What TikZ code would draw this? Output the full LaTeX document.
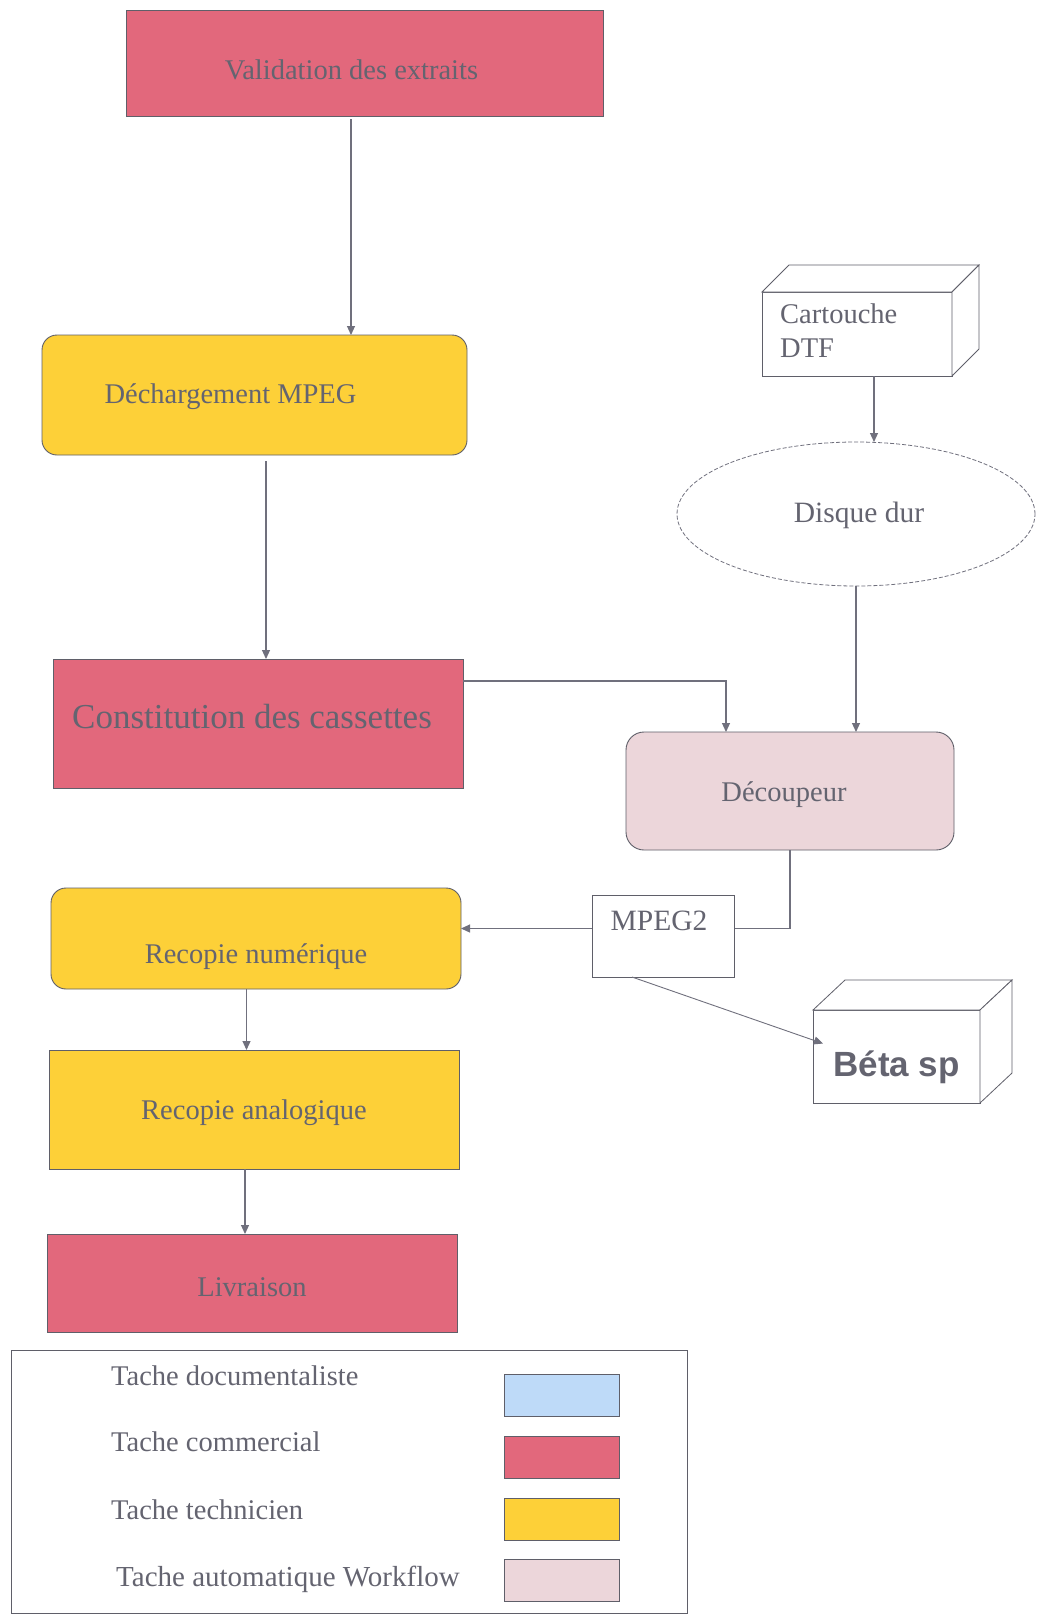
\documentclass[tikz,border=0pt]{standalone}
\usepackage{fontspec}
\setmainfont{Liberation Serif}
\newfontfamily\betafont{Liberation Sans}
\usetikzlibrary{arrows.meta,shapes.geometric}

\definecolor{commercial}{RGB}{226,104,124}
\definecolor{technicien}{RGB}{253,208,56}
\definecolor{workflow}{RGB}{236,214,218}
\definecolor{documentaliste}{RGB}{190,218,248}
\definecolor{linegray}{RGB}{112,112,125}
\definecolor{textgray}{RGB}{100,100,112}
\definecolor{bordergray}{RGB}{95,95,105}

\tikzset{
  txt/.style={text=textgray, font=\fontsize{28.5}{34}\selectfont, inner sep=0pt},
  taskbox/.style={draw=bordergray, line width=0.9pt, outer sep=0pt, txt},
  comm/.style={taskbox, fill=commercial},
  tech/.style={taskbox, fill=technicien},
  auto/.style={taskbox, fill=workflow},
  plainbox/.style={draw=bordergray, line width=0.8pt, fill=white, outer sep=0pt, txt},
  arr/.style={draw=linegray, line width=1.1pt, -{Triangle[length=9pt,width=8pt]}},
  swatch/.style={draw=bordergray, line width=0.8pt, minimum width=115pt, minimum height=42pt, outer sep=0pt},
  % box caption placed at the centre, nudged by (dx,dy)
  caption/.style n args={3}{label={[txt, xshift=#1, yshift=#2]center:#3}},
}

\begin{document}
\begin{tikzpicture}[x=1pt,y=-1pt]
\useasboundingbox[fill=white] (0,0) rectangle (1037,1615);

% main flow, left column
\node[comm, minimum width=477pt, minimum height=106pt, caption={-13pt}{-7pt}{Validation des extraits}] (valid) at (364.5,63) {};
\node[tech, rounded corners=15pt, minimum width=425pt, minimum height=120pt, caption={-24pt}{-2pt}{Déchargement MPEG}] (decharge) at (254.5,395) {};
\node[comm, minimum width=410pt, minimum height=129pt, label={[txt, font=\fontsize{35}{40}\selectfont, xshift=-6pt, yshift=7pt]center:Constitution des cassettes}] (constit) at (258,723.5) {};
\node[tech, rounded corners=15pt, minimum width=410pt, minimum height=101pt, caption={0pt}{-18pt}{Recopie numérique}] (recop) at (256,938.5) {};
\node[tech, minimum width=410pt, minimum height=119pt, caption={0pt}{-3pt}{Recopie analogique}] (recana) at (254,1109.5) {};
\node[comm, minimum width=410pt, minimum height=98pt, caption={0pt}{-4pt}{Livraison}] (livr) at (252,1283) {};

% right column: storage and cutter
\node[plainbox, minimum width=190pt, minimum height=84pt, label={[txt, align=left, anchor=north west, xshift=18pt, yshift=-12pt]north west:Cartouche\\DTF}] (cart) at (857,334) {};
\draw[plainbox] (cart.north west) -- ([shift={(27,-27)}]cart.north west) -- ([shift={(27,-27)}]cart.north east) -- (cart.north east) -- cycle;
\draw[plainbox] (cart.north east) -- ([shift={(27,-27)}]cart.north east) -- ([shift={(27,-27)}]cart.south east) -- (cart.south east) -- cycle;

\node[ellipse, draw=linegray, line width=0.8pt, dash pattern=on 4pt off 2pt, minimum width=358pt, minimum height=144pt, inner sep=0pt, outer sep=0pt, label={[txt, font=\fontsize{29.5}{34}\selectfont, xshift=3pt, yshift=-1pt]center:Disque dur}] (disk) at (856,514) {};

\node[auto, rounded corners=18pt, minimum width=328pt, minimum height=118pt, caption={-6pt}{-4pt}{Découpeur}] (decoup) at (790,791) {};

% connectors
\coordinate (v1) at ([xshift=-13.5pt,yshift=-3pt]valid.south);
\draw[arr] (v1) -- (v1 |- decharge.north);
\coordinate (d1) at ([xshift=11.5pt,yshift=-6pt]decharge.south);
\draw[arr] (d1) -- (d1 |- constit.north);
\coordinate (c1) at ([yshift=-22pt]constit.north east);
\coordinate (c2) at ([xshift=-64pt]decoup.north);
\draw[arr] (c1) -| (c2);
\coordinate (k1) at ([xshift=17pt]cart.south);
\draw[arr] (k1) -- (k1 |- disk.north);
\draw[arr] (disk.south) -- (disk.south |- decoup.north);
\coordinate (r1) at ([yshift=10pt]recop.east);
\draw[arr] (decoup.south) |- (r1);
\coordinate (n1) at ([xshift=-9.5pt]recop.south);
\draw[arr] (n1) -- (n1 |- recana.north);
\coordinate (a1) at ([xshift=-9pt]recana.south);
\draw[arr] (a1) -- (a1 |- livr.north);

% output format and tape
\node[plainbox, minimum width=142pt, minimum height=82pt, label={[txt, font=\fontsize{29.5}{34}\selectfont, xshift=-4pt, yshift=15pt]center:MPEG2}] (mpeg) at (663,936) {};

\node[plainbox, minimum width=167pt, minimum height=93pt, label={[txt, font=\betafont\bfseries\fontsize{35}{40}\selectfont, yshift=-11pt]center:Béta sp}] (beta) at (896.5,1056.5) {};
\draw[plainbox] (beta.north west) -- ([shift={(32,-30)}]beta.north west) -- ([shift={(32,-30)}]beta.north east) -- (beta.north east) -- cycle;
\draw[plainbox] (beta.north east) -- ([shift={(32,-30)}]beta.north east) -- ([shift={(32,-30)}]beta.south east) -- (beta.south east) -- cycle;

\draw[arr, line width=0.9pt] ([xshift=-31pt]mpeg.south) -- ([shift={(10pt,13pt)}]beta.west);

% legend
\node[draw=bordergray, line width=0.8pt, minimum width=676pt, minimum height=263pt, outer sep=0pt] (legend) at (349,1481.5) {};
\node[txt, anchor=west] (l1) at (111,1376) {Tache documentaliste};
\node[txt, anchor=west] (l2) at (111,1442) {Tache commercial};
\node[txt, anchor=west] (l3) at (111,1510) {Tache technicien};
\node[txt, anchor=west, font=\fontsize{29}{34}\selectfont] (l4) at (116,1579) {Tache automatique Workflow};
\node[swatch, fill=documentaliste] (s1) at (561.5,1395) {};
\node[swatch, fill=commercial] (s2) at (561.5,1457) {};
\node[swatch, fill=technicien] (s3) at (561.5,1519) {};
\node[swatch, fill=workflow] (s4) at (561.5,1580) {};
\end{tikzpicture}
\end{document}
